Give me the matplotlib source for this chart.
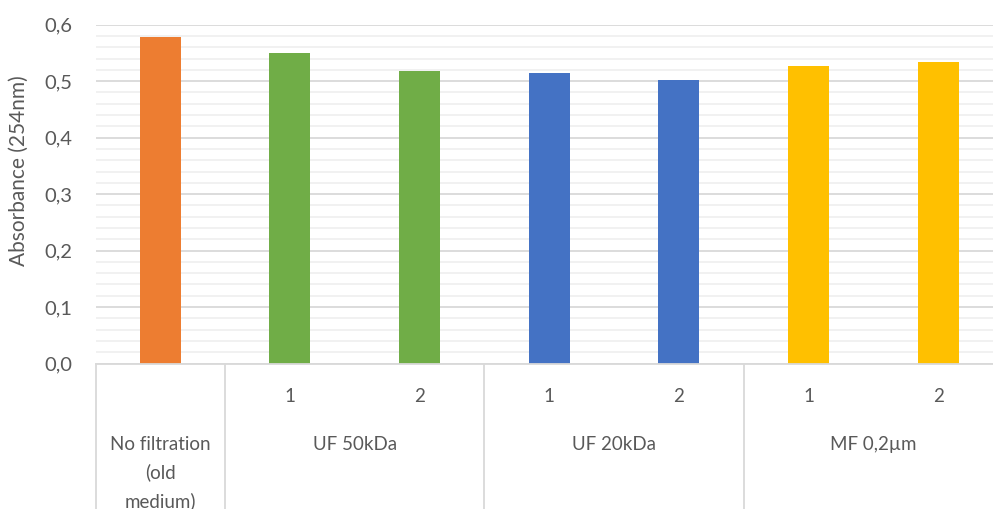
import matplotlib
matplotlib.use("Agg")
import matplotlib.pyplot as plt
from matplotlib.ticker import MultipleLocator, FuncFormatter
import matplotlib.transforms as mtransforms

plt.rcParams['font.family'] = ['Lato', 'DejaVu Sans']

# Data
groups = ["No filtration\n(old\nmedium)", "UF 50kDa", "UF 20kDa", "MF 0,2µm"]
sub_labels = [[""], ["1", "2"], ["1", "2"], ["1", "2"]]
values = [[0.578], [0.550, 0.518], [0.514, 0.502], [0.527, 0.534]]
group_colors = ["#ED7D31", "#70AD47", "#4472C4", "#FFC000"]
y_label = "Absorbance (254nm)"

text_color = "#595959"
W, H = 993, 509
fig = plt.figure(figsize=(W / 100, H / 100), dpi=100)

x0, x1 = 95.5, 1003.0
y_top, y_zero = 24.7, 363.5
ax = fig.add_axes([x0 / W, (H - y_zero) / H, (x1 - x0) / W, (y_zero - y_top) / H])

n_slots = sum(len(s) for s in sub_labels)
ax.set_xlim(0, n_slots)
ax.set_ylim(0, 0.6)

blend = mtransforms.blended_transform_factory(ax.transData, ax.transAxes)
pos = 0
boundaries = [0]
for gi, (g, subs, vals) in enumerate(zip(groups, sub_labels, values)):
    start = pos
    for s, v in zip(subs, vals):
        ax.bar(pos + 0.5, v, width=0.316, color=group_colors[gi], zorder=3)
        if s:
            ax.text(pos + 0.5, -0.098, s, transform=blend, ha="center", va="center",
                    fontsize=13.5, color=text_color)
        pos += 1
    center = (start + pos) / 2
    ax.text(center, -0.213, g, transform=blend, ha="center", va="top",
            fontsize=13.5, color=text_color, linespacing=1.72)
    boundaries.append(pos)

# category separators below the axis
for b in boundaries:
    ax.plot([b, b], [0, -0.6], transform=blend, color="#d9d9d9", lw=1.3,
            clip_on=False, zorder=1)

ax.yaxis.set_major_locator(MultipleLocator(0.1))
ax.yaxis.set_minor_locator(MultipleLocator(0.02))
ax.yaxis.set_major_formatter(FuncFormatter(lambda v, p: f"{v:.1f}".replace(".", ",")))
ax.grid(axis="y", which="major", color="#d9d9d9", lw=1.3, zorder=0)
ax.grid(axis="y", which="minor", color="#f0f0f0", lw=1.3, zorder=0)
ax.tick_params(axis="y", which="both", length=0, labelsize=14.5, labelcolor=text_color, pad=17)
ax.set_xticks([])

for side in ["top", "right", "left"]:
    ax.spines[side].set_visible(False)
ax.spines["bottom"].set_color("#d9d9d9")
ax.spines["bottom"].set_linewidth(1.3)
ax.spines["bottom"].set_zorder(4)

fig.text(19 / W, 1 - 171 / H, y_label, rotation=90, ha="center", va="center",
         fontsize=15, color=text_color)

fig.savefig("out.png", dpi=100)
